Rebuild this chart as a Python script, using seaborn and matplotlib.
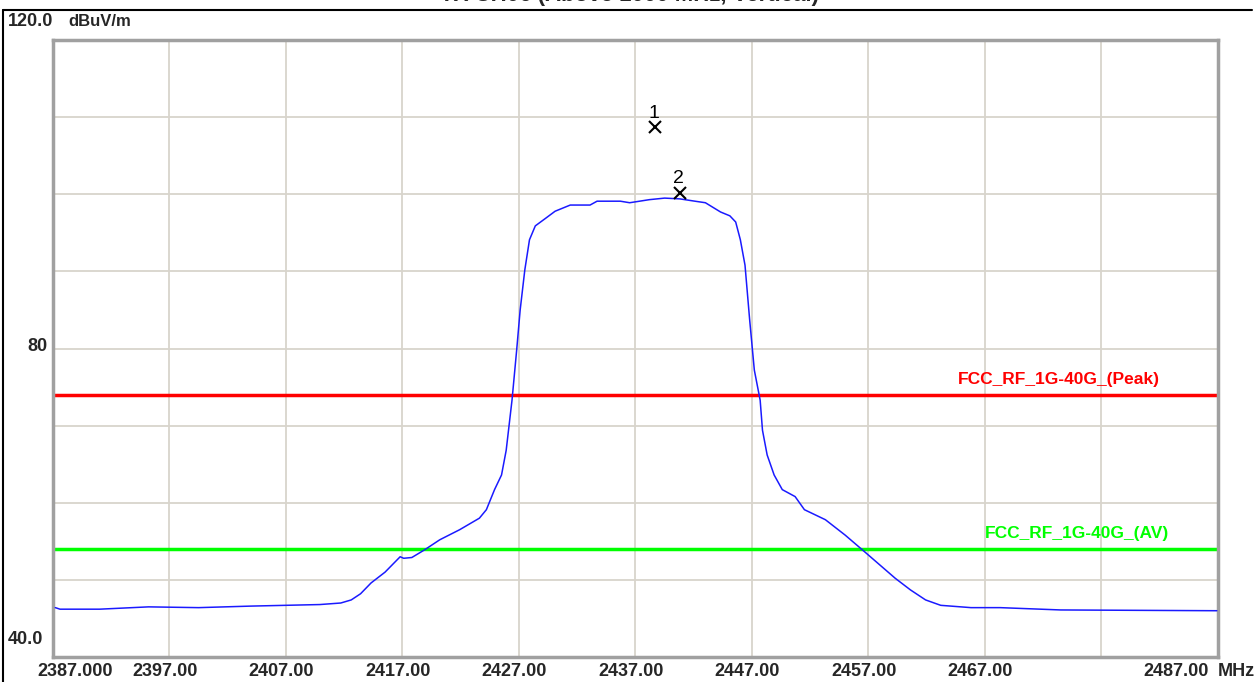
import numpy as np
import pandas as pd
import matplotlib
matplotlib.use("Agg")
import matplotlib.pyplot as plt
import matplotlib.transforms as mtransforms
import seaborn as sns

# ---- data ----
freq_mhz = [2387.2, 2387.6, 2391.0, 2395.2, 2399.5, 2404.0, 2409.9, 2411.7, 2412.6, 2413.4,
            2414.3, 2415.5, 2416.8, 2417.1, 2417.8, 2418.9, 2420.2, 2421.9, 2423.6, 2424.2,
            2424.9, 2425.5, 2425.9, 2426.4, 2426.8, 2427.1, 2427.5, 2427.9, 2428.4, 2429.3,
            2430.1, 2431.4, 2433.1, 2433.7, 2435.7, 2436.5, 2438.2, 2439.5, 2440.8, 2442.1,
            2443.0, 2444.3, 2445.1, 2445.6, 2446.0, 2446.4, 2446.8, 2447.2, 2447.7, 2447.9,
            2448.3, 2448.9, 2449.6, 2450.7, 2451.5, 2453.3, 2455.0, 2456.7, 2458.0, 2459.3,
            2460.6, 2461.9, 2463.2, 2465.8, 2468.3, 2473.5, 2486.9]
level_dbuv = [46.4, 46.2, 46.2, 46.5, 46.4, 46.6, 46.8, 47.0, 47.4, 48.2,
              49.6, 51.0, 53.0, 52.8, 52.9, 53.9, 55.2, 56.5, 58.0, 59.1,
              61.7, 63.6, 66.8, 73.3, 79.8, 85.0, 90.2, 94.1, 95.9, 96.9,
              97.8, 98.6, 98.6, 99.1, 99.1, 98.9, 99.3, 99.5, 99.4, 99.1,
              98.9, 97.7, 97.2, 96.4, 94.1, 90.8, 83.7, 77.2, 73.3, 69.4,
              66.2, 63.6, 61.7, 60.8, 59.1, 57.8, 55.8, 53.6, 51.9, 50.2,
              48.7, 47.4, 46.7, 46.4, 46.4, 46.1, 46.0]

peak_limit = 74.0
av_limit = 54.0
peak_label = "FCC_RF_1G-40G_(Peak)"
av_label = "FCC_RF_1G-40G_(AV)"

marker_ids = ["1", "2"]
marker_freq = [2438.7, 2440.8]
marker_level = [108.7, 100.2]

x_ticks = [2387, 2397, 2407, 2417, 2427, 2437, 2447, 2457, 2467, 2487]
x_tick_labels = ["2387.000", "2397.00", "2407.00", "2417.00", "2427.00", "2437.00",
                 "2447.00", "2457.00", "2467.00", "2487.00"]
x_grid = [2397, 2407, 2417, 2427, 2437, 2447, 2457, 2467, 2477]
y_grid = [50, 60, 70, 80, 90, 100, 110]
y_tick_vals = [120.0, 80, 40.0]
y_tick_labels = ["120.0", "80", "40.0"]
title = "TX CH06 (Above 1000 MHz, Vertical)"

# ---- plot ----
sns.set_style("white")
plt.rcParams['font.family'] = ['Liberation Sans', 'DejaVu Sans']

fig = plt.figure(figsize=(12.58, 6.82), dpi=100)
ax = fig.add_axes([53/1258, 25/682, (1218-53)/1258, (657-40)/682])

df = pd.DataFrame({"freq": freq_mhz, "level": level_dbuv})

ax.set_xlim(2387, 2487)
ax.set_ylim(40, 120)

grid_c = "#d8d4cc"
for g in x_grid:
    ax.axvline(g, color=grid_c, lw=1.3, zorder=0)
for g in y_grid:
    ax.axhline(g, color=grid_c, lw=1.3, zorder=0)

ax.axhline(peak_limit, color="#ff0000", lw=2.5, zorder=2)
ax.axhline(av_limit, color="#00ff00", lw=2.5, zorder=2)

sns.lineplot(data=df, x="freq", y="level", ax=ax, color="#1a1aff", lw=1.1, zorder=3)

for mid, mf, ml in zip(marker_ids, marker_freq, marker_level):
    ax.plot([mf], [ml], marker="x", color="black", ms=8, mew=1.5, zorder=4)
    ax.annotate(mid, (mf, ml), xytext=(-1, 4), textcoords="offset points",
                ha="center", va="bottom", fontsize=14, color="black")

ax.text(2482.0, peak_limit + 1.0, peak_label, color="#ff0000", fontsize=12.5,
        fontweight="bold", ha="right", va="bottom")
ax.text(2482.8, av_limit + 1.0, av_label, color="#00ff00", fontsize=12.5,
        fontweight="bold", ha="right", va="bottom")

ax.set_xticks([])
ax.set_yticks([])
ax.set_xlabel("")
ax.set_ylabel("")

for side in ["left", "right", "top", "bottom"]:
    ax.spines[side].set_visible(True)
    ax.spines[side].set_color("#a0a0a0")
    ax.spines[side].set_linewidth(2.5)

# tick labels as text
trans_x = mtransforms.blended_transform_factory(ax.transData, fig.transFigure)
for v, lab in zip(x_ticks, x_tick_labels):
    ha = "center"
    xx = v - 0.4
    if lab == "2387.000":
        ha = "left"
        xx = v - 1.3
    if lab == "2487.00":
        ha = "right"
        xx = v - 0.8
    ax.text(xx, 11/682, lab, transform=trans_x, ha=ha, va="center",
            fontsize=13, fontweight="bold")
fig.text(1236/1258, 11/682, "MHz", ha="center", va="center", fontsize=13, fontweight="bold")

fig.text(8/1258, (682-22)/682, y_tick_labels[0], ha="left", va="center",
         fontsize=13, fontweight="bold")
fig.text(68/1258, (682-22)/682, "dBuV/m", ha="left", va="center",
         fontsize=12, fontweight="bold")
trans_y = mtransforms.blended_transform_factory(fig.transFigure, ax.transData)
ax.text(47/1258, y_tick_vals[1] + 0.25, y_tick_labels[1], transform=trans_y,
        ha="right", va="center", fontsize=13, fontweight="bold")
fig.text(8/1258, (682-640)/682, y_tick_labels[2], ha="left", va="center",
         fontsize=13, fontweight="bold")

# title, cut at top as in the reference
fig.text(630/1258, (682+5)/682, title, ha="center", va="center",
         fontsize=16, fontweight="bold")

# outer frame lines
fig.add_artist(plt.Line2D([3/1258, 3/1258], [0, (682-10)/682], color="black", lw=1.5,
                          transform=fig.transFigure))
fig.add_artist(plt.Line2D([3/1258, 1252/1258], [(682-10)/682, (682-10)/682], color="black",
                          lw=1.5, transform=fig.transFigure))

fig.savefig("out.png", dpi=100)
